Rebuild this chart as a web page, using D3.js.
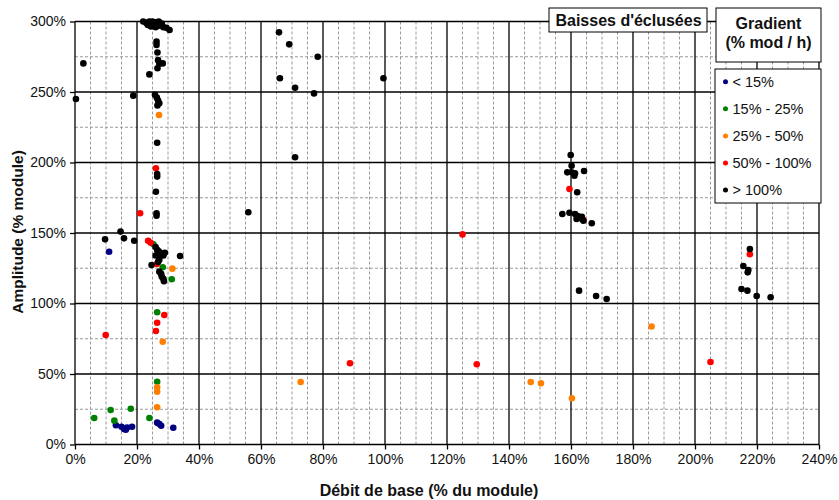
<!DOCTYPE html>
<html>
<head>
<meta charset="utf-8">
<script src="https://cdn.jsdelivr.net/npm/d3@7"></script>
<style>
  body { margin: 0; background: #fff; }
  svg { display: block; font-family: Arial, "Liberation Sans", sans-serif; }
</style>
</head>
<body>
<svg id="chart" width="839" height="500"></svg>
<script>
// gradient classes (% module / h)
const classes = ["< 15%", "15% - 25%", "25% - 50%", "50% - 100%", "> 100%"];
const classColors = ["#000080", "#008000", "#ff8000", "#ff0000", "#000000"];

// [débit de base %, amplitude %]
const ptsBlue = [
  [11, 136.7], [13.2, 13.6], [15, 12.6], [15.8, 11], [16.4, 10.5], [16.8, 12],
  [18.4, 12.6], [26.5, 15.5], [27.2, 14.5], [27.8, 13.3], [31.7, 11.9]
];
const ptsGreen = [
  [6.2, 18.8], [11.5, 24.5], [12.7, 16.9], [18, 25.4], [24, 18.8],
  [26.5, 44.5], [26.5, 93.8], [31.2, 117.2], [28.3, 125.7], [25.3, 142]
];
const ptsOrange = [
  [27.1, 233.7], [31.4, 124.7], [28.3, 72.9], [26.5, 40.6], [26.5, 37.5], [26.5, 26.4],
  [72.8, 44.3], [147, 44.3], [150.3, 43.4], [160.3, 32.8], [186, 83.7]
];
const ptsRed = [
  [26.1, 195.9], [21, 164], [23.6, 144.5], [24.4, 143.1], [26.4, 128], [28.8, 91.8],
  [26.5, 86.4], [26.1, 80.5], [9.9, 77.7], [88.7, 57.6], [129.6, 56.9], [125, 149],
  [159.5, 181.2], [164, 159.2], [217.7, 134.9], [205, 58.5]
];
const ptsBlack = [
  // haut de la colonne 25 %
  [22, 300], [23, 299], [24, 300], [25, 300], [26, 299.5], [27, 300], [28, 298.5],
  [23.5, 297.5], [24.5, 296.5], [26, 296], [27, 297], [28.5, 296], [29.5, 295.5], [30.5, 294],
  [26.3, 285.7], [26.3, 283.3], [26.6, 278], [26.8, 272.6], [27.2, 270], [28.3, 270.3],
  [26.6, 266.8], [24, 262.5], [18.8, 247.4], [2.7, 270.3], [0.3, 245],
  [25.8, 248], [26.4, 246], [26.8, 244], [27.2, 242], [26.6, 240.5], [26.5, 214],
  [26.5, 191.8], [26.5, 190], [26.1, 179.3], [26.3, 164], [26.3, 162.3],
  [14.7, 151], [15.8, 146.2], [9.7, 145.5], [19.1, 144.5],
  [26, 140], [26.5, 138], [27, 137], [27.5, 136], [28, 135], [26, 134], [27, 133.5],
  [28.5, 134], [29, 136], [27.2, 131], [26.8, 129.5], [33.9, 133.7], [24.7, 127.3],
  [27.2, 122.6], [27.8, 121], [28, 119], [28.5, 117.5], [28.7, 115.8],
  // autour de 60-100 %
  [65.8, 292.3], [69.1, 283.8], [78.3, 275], [66.1, 259.7], [71, 253], [77.1, 249],
  [71, 203.7], [55.9, 164.7], [99.5, 259.7],
  // autour de 160 %
  [159.9, 205.3], [160.2, 197.7], [158.8, 193], [160.2, 193], [161.3, 192.3], [161.1, 190.6],
  [164.2, 194], [162, 178.9], [157.2, 163.5], [159.5, 164.4], [161.3, 163.5], [162.2, 162],
  [163, 160.5], [161.8, 160], [163.5, 161.5], [164, 158.7], [166.7, 156.9],
  [162.6, 109.1], [168.1, 105.3], [171.5, 103.2],
  // autour de 220 %
  [217.7, 138.6], [215.6, 126.6], [217.2, 123.8], [217, 122.1], [215, 110.3], [216.9, 109.1],
  [219.9, 105.3], [224.4, 104.4]
];
const series = [ptsBlue, ptsGreen, ptsOrange, ptsRed, ptsBlack];

const xTicks = d3.range(0, 241, 20);
const yTicks = d3.range(0, 301, 50);

const svg = d3.select("#chart");
const plotLeft = 75, plotRight = 819, plotTop = 21.5, plotBottom = 444.5;

const x = d3.scaleLinear().domain([0, 240]).range([plotLeft, plotRight]);
const y = d3.scaleLinear().domain([0, 300]).range([plotBottom, plotTop]);

// minor grid
const grid = svg.append("g");
grid.selectAll(".vminor")
  .data(d3.range(5, 240, 5).filter(d => d % 20 !== 0))
  .enter().append("line")
  .attr("x1", d => x(d)).attr("x2", d => x(d))
  .attr("y1", plotTop).attr("y2", plotBottom)
  .attr("stroke", "#9a9a9a").attr("stroke-dasharray", "3,2");
grid.selectAll(".hminor")
  .data(d3.range(25, 300, 50))
  .enter().append("line")
  .attr("x1", plotLeft).attr("x2", plotRight)
  .attr("y1", d => y(d)).attr("y2", d => y(d))
  .attr("stroke", "#9a9a9a").attr("stroke-dasharray", "3,2");
// major grid
grid.selectAll(".vmajor")
  .data(xTicks)
  .enter().append("line")
  .attr("x1", d => x(d)).attr("x2", d => x(d))
  .attr("y1", plotTop).attr("y2", plotBottom)
  .attr("stroke", "#000").attr("stroke-width", 1.3);
grid.selectAll(".hmajor")
  .data(yTicks)
  .enter().append("line")
  .attr("x1", plotLeft).attr("x2", plotRight)
  .attr("y1", d => y(d)).attr("y2", d => y(d))
  .attr("stroke", "#000").attr("stroke-width", 1.3);

// axes
const xAxis = svg.append("g")
  .attr("transform", `translate(0,${plotBottom})`)
  .call(d3.axisBottom(x).tickValues(xTicks).tickSize(5).tickFormat(d => d + "%"));
xAxis.select(".domain").remove();
xAxis.selectAll("line").attr("stroke", "#000").attr("stroke-width", 1.3);
xAxis.selectAll("text").attr("font-size", 14).attr("fill", "#111").attr("dy", "0.85em").attr("font-family", "Arial");

const yAxis = svg.append("g")
  .attr("transform", `translate(${plotLeft},0)`)
  .call(d3.axisLeft(y).tickValues(yTicks).tickSize(5).tickFormat(d => d + "%"));
yAxis.select(".domain").remove();
yAxis.selectAll("line").attr("stroke", "#000").attr("stroke-width", 1.3);
yAxis.selectAll("text").attr("font-size", 14).attr("fill", "#111").attr("font-family", "Arial").attr("x", -9);

// points
series.forEach((pts, i) => {
  svg.append("g").selectAll("circle")
    .data(pts)
    .enter().append("circle")
    .attr("cx", d => x(d[0]))
    .attr("cy", d => y(d[1]))
    .attr("r", 3.3)
    .attr("fill", classColors[i]);
});

// axis titles
svg.append("text")
  .attr("x", 429).attr("y", 496)
  .attr("text-anchor", "middle")
  .attr("font-size", 16).attr("font-weight", "bold").attr("fill", "#111")
  .text("Débit de base (% du module)");
svg.append("text")
  .attr("transform", `translate(23,232) rotate(-90)`)
  .attr("text-anchor", "middle")
  .attr("font-size", 15.5).attr("font-weight", "bold").attr("fill", "#111")
  .text("Amplitude (% module)");

// title box
svg.append("rect")
  .attr("x", 549).attr("y", 8).attr("width", 158).attr("height", 24)
  .attr("fill", "#fff").attr("stroke", "#000");
svg.append("text")
  .attr("x", 628.5).attr("y", 26).attr("text-anchor", "middle")
  .attr("font-size", 16).attr("font-weight", "bold").attr("fill", "#111")
  .text("Baisses d'éclusées");

// legend title box
svg.append("rect")
  .attr("x", 716).attr("y", 8).attr("width", 105).attr("height", 54)
  .attr("fill", "#fff").attr("stroke", "#000");
svg.append("text")
  .attr("x", 768.5).attr("y", 28.5).attr("text-anchor", "middle")
  .attr("font-size", 16).attr("font-weight", "bold").attr("fill", "#111")
  .text("Gradient");
svg.append("text")
  .attr("x", 768.5).attr("y", 47.5).attr("text-anchor", "middle")
  .attr("font-size", 16).attr("font-weight", "bold").attr("fill", "#111")
  .text("(% mod / h)");

// legend
svg.append("rect")
  .attr("x", 715).attr("y", 69).attr("width", 106).attr("height", 134)
  .attr("fill", "#fff").attr("stroke", "#000");
const legendItem = svg.append("g").selectAll("g")
  .data(classes)
  .enter().append("g")
  .attr("transform", (d, i) => `translate(725.5,${81.7 + i * 27.1})`);
legendItem.append("circle")
  .attr("r", 2.5)
  .attr("fill", (d, i) => classColors[i]);
legendItem.append("text")
  .attr("x", 7).attr("dy", "0.35em")
  .attr("font-size", 14.5).attr("fill", "#111")
  .text(d => d);
</script>
</body>
</html>
